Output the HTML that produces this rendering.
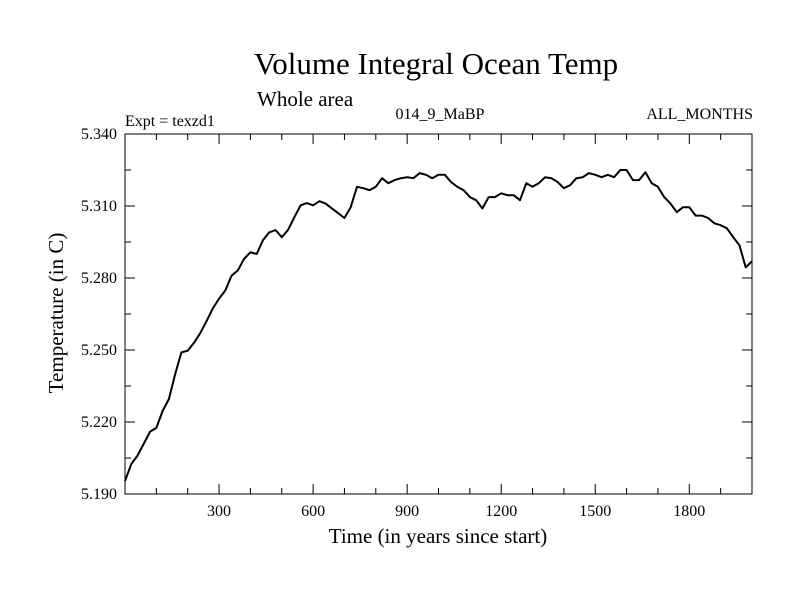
<!DOCTYPE html>
<html><head><meta charset="utf-8">
<style>
html,body{margin:0;padding:0;background:#fff;}
svg{display:block;font-family:"Liberation Serif",serif;}
</style></head>
<body>
<svg id="chart" width="800" height="600" viewBox="0 0 800 600" xmlns="http://www.w3.org/2000/svg">
<rect x="0" y="0" width="800" height="600" fill="#fff"/>
<text x="436" y="74" font-size="31" text-anchor="middle">Volume Integral Ocean Temp</text>
<text x="257" y="106" font-size="21">Whole area</text>
<text x="125" y="126" font-size="16">Expt = texzd1</text>
<text x="440" y="119" font-size="16" text-anchor="middle">014_9_MaBP</text>
<text x="753" y="119" font-size="16" text-anchor="end">ALL_MONTHS</text>
<text x="438" y="543" font-size="21" text-anchor="middle">Time (in years since start)</text>
<text transform="translate(63,313) rotate(-90)" font-size="21" text-anchor="middle">Temperature (in C)</text>
<g id="axes"></g>
<g id="series"></g>
</svg>
<script>
const years = [0,20,40,60,80,100,120,140,160,180,200,220,240,260,280,300,320,340,360,380,400,420,440,460,480,500,520,540,560,580,600,620,640,660,680,700,720,740,760,780,800,820,840,860,880,900,920,940,960,980,1000,1020,1040,1060,1080,1100,1120,1140,1160,1180,1200,1220,1240,1260,1280,1300,1320,1340,1360,1380,1400,1420,1440,1460,1480,1500,1520,1540,1560,1580,1600,1620,1640,1660,1680,1700,1720,1740,1760,1780,1800,1820,1840,1860,1880,1900,1920,1940,1960,1980,2000];
const temps = [5.1954,5.2025,5.206,5.211,5.216,5.2175,5.2246,5.2296,5.240,5.249,5.2497,5.253,5.257,5.262,5.2673,5.2714,5.2748,5.281,5.2832,5.288,5.2907,5.290,5.2957,5.299,5.300,5.297,5.300,5.3053,5.3103,5.3112,5.3103,5.312,5.311,5.309,5.307,5.305,5.3095,5.318,5.3174,5.3166,5.318,5.3216,5.3195,5.3208,5.3216,5.322,5.3216,5.3237,5.323,5.3216,5.323,5.323,5.320,5.318,5.3166,5.3137,5.3124,5.309,5.3137,5.3137,5.3153,5.3145,5.3145,5.3124,5.3195,5.318,5.3195,5.322,5.3216,5.320,5.3174,5.3187,5.3216,5.322,5.3237,5.323,5.322,5.323,5.322,5.325,5.325,5.3208,5.3208,5.3241,5.3195,5.318,5.3137,5.311,5.3074,5.3095,5.3095,5.306,5.306,5.305,5.3028,5.302,5.3007,5.297,5.2936,5.2844,5.287];
const xTicks = [300,600,900,1200,1500,1800];
const yTicks = [5.190,5.220,5.250,5.280,5.310,5.340];
const xDomain = [0,2000];
const yDomain = [5.190,5.340];

const L=125,R=752,T=134,B=494;
const NS="http://www.w3.org/2000/svg";
function sx(v){return L+(v-xDomain[0])/(xDomain[1]-xDomain[0])*(R-L);}
function sy(v){return B-(v-yDomain[0])/(yDomain[1]-yDomain[0])*(B-T);}
function mk(tag,attrs,parent){const e=document.createElementNS(NS,tag);for(const k in attrs)e.setAttribute(k,attrs[k]);parent.appendChild(e);return e;}
const axes=document.getElementById('axes');
const frame=mk('rect',{x:L,y:T,width:R-L,height:B-T,fill:'none',stroke:'#000','stroke-width':1},axes);


// minor x ticks every 100
for(let v=100;v<2000;v+=100){
  const major=xTicks.includes(v);const len=major?10:6;
  const a=mk('line',{x1:sx(v),x2:sx(v),y1:B,y2:B-len,stroke:'#000'},axes);
  
  
  const b=mk('line',{x1:sx(v),x2:sx(v),y1:T,y2:T+len,stroke:'#000'},axes);
  
  
}
xTicks.forEach(v=>{
  const t=mk('text',{x:sx(v),y:516,'font-size':16,'text-anchor':'middle'},axes);
  t.textContent=String(v);
  
  
});
for(let i=1;i<10;i++){
  const v=yDomain[0]+i*0.015;const major=i%2===0;const len=major?10:6;
  const a=mk('line',{x1:L,x2:L+len,y1:sy(v),y2:sy(v),stroke:'#000'},axes);
  
  
  const b=mk('line',{x1:R,x2:R-len,y1:sy(v),y2:sy(v),stroke:'#000'},axes);
  
  
}
yTicks.forEach(v=>{
  const t=mk('text',{x:117,y:sy(v)+5,'font-size':16,'text-anchor':'end'},axes);
  t.textContent=v.toFixed(3);
  
  
});
const d=years.map((y,i)=>(i?'L':'M')+sx(y).toFixed(1)+','+sy(temps[i]).toFixed(1)).join(' ');
const line=mk('path',{d:d,fill:'none',stroke:'#000','stroke-width':2,'stroke-linejoin':'round'},document.getElementById('series'));


</script>
</body></html>
